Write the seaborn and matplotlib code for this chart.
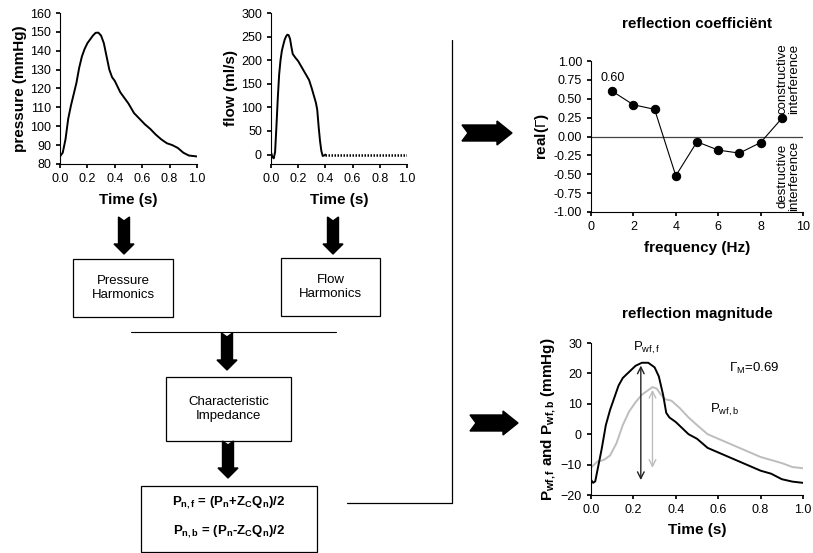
import numpy as np
import matplotlib
matplotlib.use("Agg")
import matplotlib.pyplot as plt
import seaborn as sns
from matplotlib.patches import Polygon, Rectangle

# pressure wave
p_time = [0.00, 0.02, 0.04, 0.06, 0.08, 0.10, 0.12, 0.14, 0.16, 0.18, 0.20, 0.22, 0.24, 0.26, 0.28,
          0.30, 0.32, 0.34, 0.36, 0.38, 0.40, 0.42, 0.44, 0.46, 0.50, 0.54, 0.58, 0.62, 0.66, 0.70,
          0.74, 0.78, 0.82, 0.86, 0.90, 0.94, 1.00]
pressure = [84, 86, 93, 104, 111, 117, 123, 131, 137, 141, 144, 146, 148, 149.5, 149.6,
            148, 144, 137, 130, 126, 124, 121, 118, 116, 112, 107, 104, 101, 98.5, 95.5,
            93, 91, 90, 88.5, 86, 84.5, 84]

# flow wave (ejection part) and the zero tail
q_time = [0.00, 0.01, 0.02, 0.03, 0.04, 0.05, 0.06, 0.07, 0.08, 0.09, 0.10, 0.11, 0.12, 0.13, 0.14,
          0.15, 0.16, 0.18, 0.20, 0.22, 0.24, 0.26, 0.28, 0.30, 0.32, 0.33, 0.34, 0.35, 0.36, 0.37,
          0.38, 0.39, 0.40]
flow = [5, -5, -8, 5, 60, 120, 170, 200, 220, 232, 243, 250, 254, 253, 245,
        228, 213, 205, 198, 188, 178, 168, 158, 140, 120, 110, 95, 60, 30, 8,
        -3, -2, 0]
q_tail_time = [0.40, 1.00]
q_tail = [0, 0]

# reflection coefficient
freq = [1, 2, 3, 4, 5, 6, 7, 8, 9]
refl = [0.60, 0.42, 0.36, -0.52, -0.07, -0.18, -0.22, -0.08, 0.24]

# forward / backward waves
f_time = [0.00, 0.01, 0.02, 0.03, 0.05, 0.07, 0.09, 0.11, 0.13, 0.15, 0.18, 0.21, 0.24, 0.27, 0.30,
          0.32, 0.34, 0.355, 0.37, 0.40, 0.43, 0.46, 0.50, 0.55, 0.60, 0.65, 0.70, 0.75, 0.80, 0.85,
          0.90, 0.95, 1.00]
p_forward = [-15, -16, -15.5, -12, -5, 3, 8, 12, 16, 18.5, 20.5, 22.5, 23.5, 23.5, 22,
             19, 13, 7, 5.5, 4, 2, 0, -1.5, -4.5, -6, -7.5, -9, -10.5, -12, -13,
             -14.8, -15.6, -16]
b_time = [0.00, 0.03, 0.06, 0.09, 0.12, 0.15, 0.18, 0.21, 0.24, 0.27, 0.29, 0.31, 0.33, 0.35, 0.38,
          0.42, 0.46, 0.50, 0.55, 0.60, 0.65, 0.70, 0.75, 0.80, 0.85, 0.90, 0.95, 1.00]
p_backward = [-11, -9, -8.5, -7, -3, 3, 7.5, 10.5, 13, 14.5, 15.5, 15, 13, 11.5, 11,
              8.5, 5.5, 3, 0, -1.5, -3, -4.5, -6, -7.5, -8.5, -9.5, -10.8, -11.2]

sns.set_theme(style="ticks")
plt.rcParams["font.family"] = ["Liberation Sans", "DejaVu Sans"]
plt.rcParams.update({
    "mathtext.fontset": "custom",
    "mathtext.rm": "Liberation Sans",
    "mathtext.it": "Liberation Sans:italic",
    "mathtext.bf": "Liberation Sans:bold",
    "xtick.labelsize": 9,
    "ytick.labelsize": 9,
    "axes.linewidth": 0.8,
    "xtick.major.size": 3,
    "ytick.major.size": 3,
    "xtick.color": "black",
    "ytick.color": "black",
    "axes.edgecolor": "black",
    "text.color": "black",
    "axes.labelcolor": "black",
})

W, H = 813, 553
fig = plt.figure(figsize=(W / 100, H / 100), dpi=100)

# overlay in pixel coordinates for the flow diagram
ov = fig.add_axes([0, 0, 1, 1])
ov.set_xlim(0, W)
ov.set_ylim(H, 0)
ov.axis("off")


def down_arrow(x, y0, y1):
    pts = [(x - 5.5, y0), (x, y0 + 4), (x + 5.5, y0), (x + 5.5, y1 - 10), (x + 10, y1 - 10),
           (x, y1), (x - 10, y1 - 10), (x - 5.5, y1 - 10)]
    ov.add_patch(Polygon(pts, closed=True, color="black"))


def right_arrow(x0, x1, y):
    pts = [(x0, y - 8), (x1 - 15, y - 8), (x1 - 15, y - 12), (x1, y), (x1 - 15, y + 12),
           (x1 - 15, y + 8), (x0, y + 8), (x0 + 6, y)]
    ov.add_patch(Polygon(pts, closed=True, color="black"))


def box(x0, y0, x1, y1, text, bold=False):
    ov.add_patch(Rectangle((x0, y0), x1 - x0, y1 - y0, fill=False, ec="black", lw=0.9))
    ov.text((x0 + x1) / 2, (y0 + y1) / 2, text, ha="center", va="center", fontsize=9.5,
            fontweight="bold" if bold else "normal", linespacing=1.3)


down_arrow(124, 217, 254)
down_arrow(333, 217, 254)
box(73, 259, 173, 317, "Pressure\nHarmonics")
box(281, 258, 380, 316, "Flow\nHarmonics")
ov.plot([131, 336], [332, 332], color="black", lw=0.8)
down_arrow(227, 333, 370)
box(166, 377, 291, 441, "Characteristic\nImpedance")
down_arrow(228, 441, 478)
ov.add_patch(Rectangle((141, 486), 176, 66, fill=False, ec="black", lw=0.9))
ov.text(229, 503, r"$\mathbf{P_{n,f}}$ = ($\mathbf{P_n}$+$\mathbf{Z_CQ_n}$)/2",
        ha="center", va="center", fontsize=9.5, fontweight="bold")
ov.text(229, 532, r"$\mathbf{P_{n,b}}$ = ($\mathbf{P_n}$-$\mathbf{Z_CQ_n}$)/2",
        ha="center", va="center", fontsize=9.5, fontweight="bold")
ov.plot([452, 452], [40, 503], color="black", lw=0.9)
ov.plot([347, 452], [503, 503], color="black", lw=0.9)
right_arrow(462, 512, 133)
right_arrow(470, 518, 423)


def px_axes(x0, y0, x1, y1):
    return fig.add_axes([x0 / W, 1 - y1 / H, (x1 - x0) / W, (y1 - y0) / H])


# pressure panel
ax1 = px_axes(60, 13, 197, 164)
sns.lineplot(x=p_time, y=pressure, ax=ax1, color="black", lw=1.4, estimator=None, sort=False)
ax1.set_xlim(0, 1)
ax1.set_ylim(80, 160)
ax1.set_xticks(np.arange(0, 1.01, 0.2))
ax1.set_xticklabels(["0.0", "0.2", "0.4", "0.6", "0.8", "1.0"])
ax1.set_yticks(range(80, 161, 10))
ax1.set_xlabel("Time (s)", fontsize=11, fontweight="bold", labelpad=6)
ax1.set_ylabel("pressure (mmHg)", fontsize=11, fontweight="bold", labelpad=2)

# flow panel
ax2 = px_axes(271, 13, 407, 164)
sns.lineplot(x=q_time, y=flow, ax=ax2, color="black", lw=1.4, estimator=None, sort=False)
sns.lineplot(x=q_tail_time, y=q_tail, ax=ax2, color="black", lw=1.8, linestyle=(0, (0.6, 0.6)))
ax2.set_xlim(0, 1)
ax2.set_ylim(-20, 300)
ax2.set_xticks(np.arange(0, 1.01, 0.2))
ax2.set_xticklabels(["0.0", "0.2", "0.4", "0.6", "0.8", "1.0"])
ax2.set_yticks(range(0, 301, 50))
ax2.set_xlabel("Time (s)", fontsize=11, fontweight="bold", labelpad=6)
ax2.set_ylabel("flow (ml/s)", fontsize=11, fontweight="bold", labelpad=2)

# reflection coefficient panel
ax3 = px_axes(591, 61, 803, 212)
ax3.plot([0, 10], [0, 0], color="#444444", lw=0.9)
sns.lineplot(x=freq, y=refl, ax=ax3, color="black", lw=0.8, marker="o", markersize=6,
             markeredgecolor="black", estimator=None, sort=False)
ax3.set_xlim(0, 10)
ax3.set_ylim(-1, 1)
ax3.set_xticks(range(0, 11, 2))
ax3.set_yticks(np.arange(-1, 1.01, 0.25))
ax3.set_yticklabels([f"{v:.2f}" for v in np.arange(-1, 1.01, 0.25)])
ax3.text(freq[0], refl[0] + 0.1, f"{refl[0]:.2f}", ha="center", va="bottom", fontsize=9)
ax3.text(9.3, 0.3, "constructive\ninterference", rotation=90, ha="center", va="bottom",
         fontsize=9.5, linespacing=0.95, clip_on=False)
ax3.text(9.3, -0.06, "destructive\ninterference", rotation=90, ha="center", va="top",
         fontsize=9.5, linespacing=0.95)
ax3.set_xlabel("frequency (Hz)", fontsize=11, fontweight="bold", labelpad=6)
ax3.set_ylabel(r"real($\Gamma$)", fontsize=11, fontweight="bold", labelpad=2)
ax3.set_title("reflection coefficiënt", fontsize=11, fontweight="bold", pad=24)

# reflection magnitude panel
ax4 = px_axes(591, 343, 803, 495)
sns.lineplot(x=b_time, y=p_backward, ax=ax4, color="#bdbdbd", lw=1.4, estimator=None, sort=False)
sns.lineplot(x=f_time, y=p_forward, ax=ax4, color="black", lw=1.4, estimator=None, sort=False)
ax4.annotate("", xy=(0.235, -16), xytext=(0.235, 23.5),
             arrowprops=dict(arrowstyle="<->", color="#222222", lw=1.0))
ax4.annotate("", xy=(0.29, -12), xytext=(0.29, 15.5),
             arrowprops=dict(arrowstyle="<->", color="#bdbdbd", lw=1.0))
ax4.text(0.26, 28.5, r"P$_{\rm wf,f}$", ha="center", va="center", fontsize=9.5)
ax4.text(0.56, 8, r"P$_{\rm wf,b}$", ha="left", va="center", fontsize=9.5)
ax4.text(0.65, 21.5, r"$\Gamma_{\rm M}$=0.69", ha="left", va="center", fontsize=9.5)
ax4.set_xlim(0, 1)
ax4.set_ylim(-20, 30)
ax4.set_xticks(np.arange(0, 1.01, 0.2))
ax4.set_xticklabels(["0.0", "0.2", "0.4", "0.6", "0.8", "1.0"])
ax4.set_yticks(range(-20, 31, 10))
ax4.set_xlabel("Time (s)", fontsize=11, fontweight="bold", labelpad=5)
ax4.set_ylabel(r"P$_{\mathbf{wf,f}}$ and P$_{\mathbf{wf,b}}$ (mmHg)", fontsize=11,
               fontweight="bold", labelpad=2)
ax4.set_title("reflection magnitude", fontsize=11, fontweight="bold", pad=18)

for ax in (ax1, ax2, ax3, ax4):
    ax.set_facecolor("none")
    sns.despine(ax=ax)

fig.savefig("out.png", dpi=100)
